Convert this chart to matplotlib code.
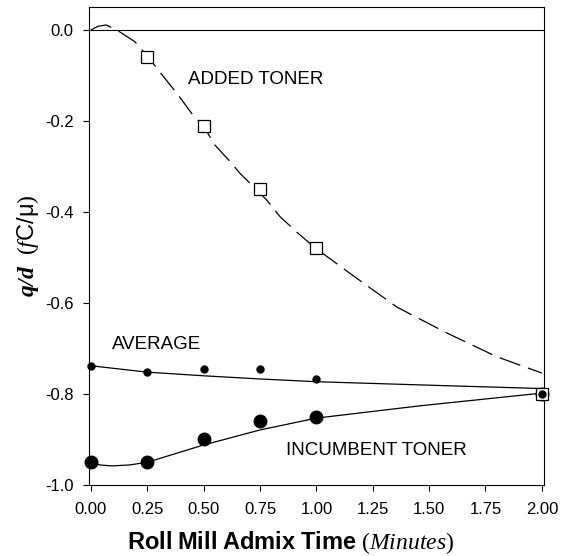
import matplotlib
matplotlib.use('Agg')
import matplotlib.pyplot as plt

plt.rcParams['font.family'] = ['Liberation Sans', 'DejaVu Sans']
plt.rcParams['axes.unicode_minus'] = False
plt.rcParams['mathtext.fontset'] = 'custom'
plt.rcParams['mathtext.rm'] = 'Liberation Serif'
plt.rcParams['mathtext.it'] = 'Liberation Serif:italic'
plt.rcParams['mathtext.bf'] = 'Liberation Sans:bold'
plt.rcParams['mathtext.bfit'] = 'Liberation Serif:italic:bold'
plt.rcParams['mathtext.sf'] = 'Liberation Sans'

# datos medidos
tiempo = [0.0, 0.25, 0.5, 0.75, 1.0, 2.0]
added_t = [0.25, 0.5, 0.75, 1.0, 2.0]
added_q = [-0.06, -0.21, -0.35, -0.48, -0.80]
average_q = [-0.738, -0.752, -0.746, -0.746, -0.766, -0.80]
incumbent_q = [-0.95, -0.95, -0.90, -0.86, -0.85, -0.80]

# curvas de ajuste
added_fit_t = [0.0, 0.03, 0.067, 0.115, 0.195, 0.25, 0.30, 0.387, 0.446, 0.50, 0.55,
               0.624, 0.661, 0.72, 0.78, 0.838, 0.919, 1.0, 1.097, 1.149, 1.357,
               1.579, 1.80, 2.0]
added_fit_q = [0.0, 0.008, 0.011, 0.0, -0.026, -0.057, -0.089, -0.143, -0.183, -0.212,
               -0.253, -0.293, -0.315, -0.344, -0.374, -0.410, -0.447, -0.481, -0.516,
               -0.535, -0.609, -0.666, -0.718, -0.754]
average_fit_t = [0.0, 0.25, 0.5, 0.75, 1.0, 1.59, 2.0]
average_fit_q = [-0.738, -0.752, -0.760, -0.767, -0.773, -0.782, -0.788]
incumbent_fit_t = [0.0, 0.04, 0.093, 0.17, 0.25, 0.5, 0.75, 1.0, 1.459, 1.827, 2.0]
incumbent_fit_q = [-0.95, -0.956, -0.958, -0.956, -0.95, -0.912, -0.879, -0.853,
                   -0.826, -0.807, -0.798]

x_ticks = [0.0, 0.25, 0.5, 0.75, 1.0, 1.25, 1.5, 1.75, 2.0]
y_ticks = [0.0, -0.2, -0.4, -0.6, -0.8, -1.0]

fig = plt.figure(figsize=(5.63, 5.56), dpi=100)
ax = fig.add_axes([0.158, 0.1277, 0.808, 0.8597])

ax.axhline(0.0, color='black', lw=0.8, zorder=1)
ax.plot(added_fit_t, added_fit_q, color='black', lw=0.9, linestyle=(0, (17.5, 6.5)))
ax.plot(average_fit_t, average_fit_q, color='black', lw=0.9)
ax.plot(incumbent_fit_t, incumbent_fit_q, color='black', lw=0.9)

ax.plot(tiempo, incumbent_q, linestyle='none', marker='o', markersize=9,
        color='black', zorder=3, clip_on=False)
ax.plot(added_t, added_q, linestyle='none', marker='s', markersize=8.5,
        markerfacecolor='white', markeredgecolor='black', markeredgewidth=0.9,
        zorder=4, clip_on=False)
ax.plot(tiempo, average_q, linestyle='none', marker='o', markersize=5,
        color='black', zorder=5, clip_on=False)

ax.text(0.43, -0.108, 'ADDED TONER', fontsize=13.5, va='center', ha='left')
ax.text(0.093, -0.692, 'AVERAGE', fontsize=13.5, va='center', ha='left')
ax.text(0.865, -0.925, 'INCUMBENT TONER', fontsize=13.5, va='center', ha='left')

ax.set_xlim(-0.009, 2.009)
ax.set_ylim(-1.0, 0.0505)
ax.set_xticks(x_ticks)
ax.set_xticklabels(['%.2f' % v for v in x_ticks])
ax.set_yticks(y_ticks)
ax.set_yticklabels(['%.1f' % v for v in y_ticks])
ax.tick_params(direction='out', length=4, width=0.8, labelsize=12)
ax.tick_params(axis='x', pad=8)
ax.tick_params(axis='y', pad=7)
for s in ax.spines.values():
    s.set_linewidth(0.8)

ax.set_xlabel(r'$\mathbf{Roll\ Mill\ Admix\ Time}$ ($\mathit{Minutes}$)',
              fontsize=17, family='Liberation Serif')
ax.xaxis.set_label_coords(0.444, -0.092)
ax.set_ylabel(r'$\mathbfit{q/d}$  ($\mathit{f}\mathsf{C/\mu}$)',
              fontsize=17, family='Liberation Serif', labelpad=3)

fig.savefig('out.png', dpi=100)
